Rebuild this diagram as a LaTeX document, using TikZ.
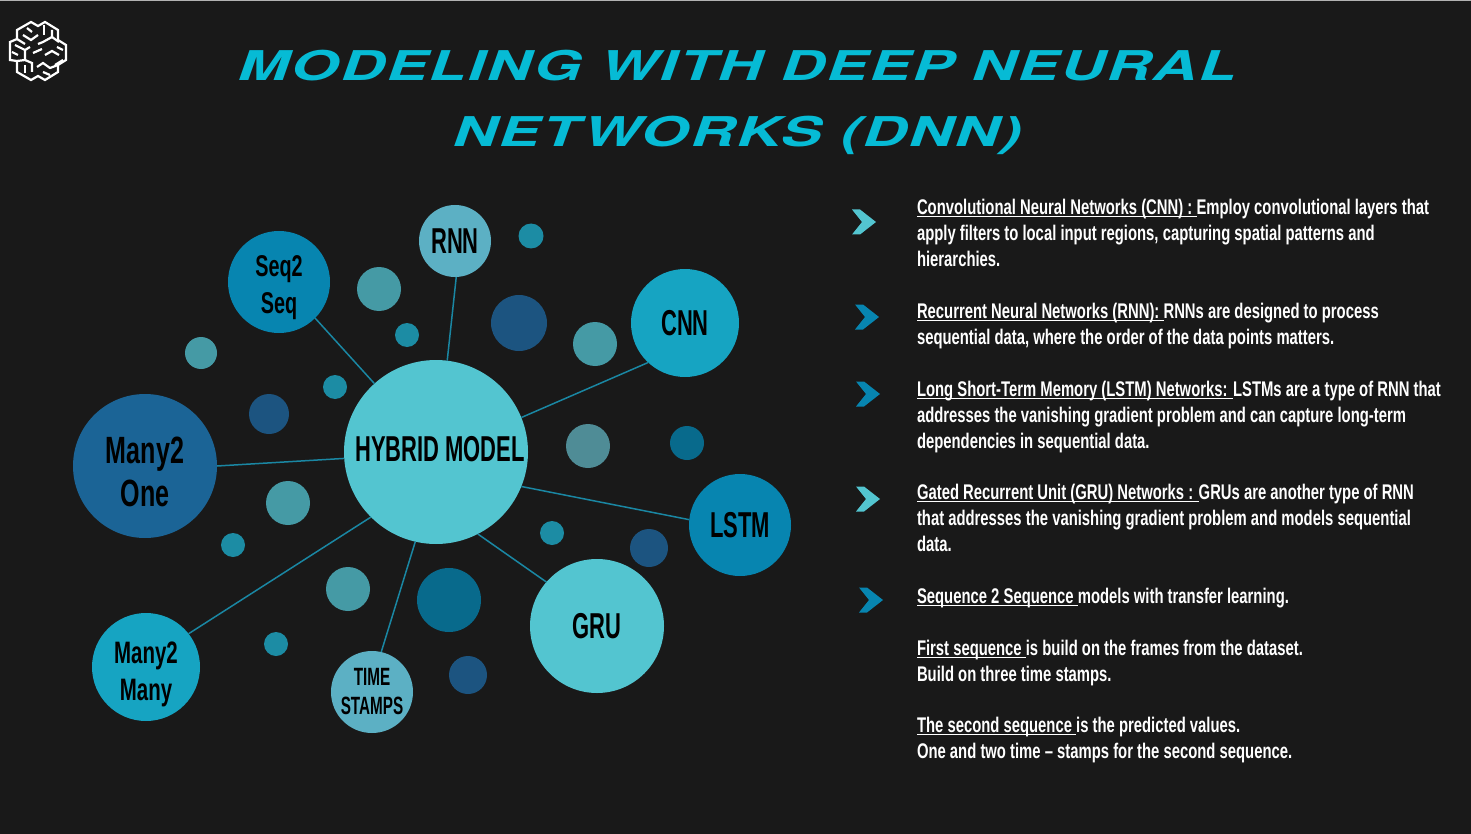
\documentclass[tikz,border=0pt]{standalone}
\usepackage{fontspec}
\setmainfont{Liberation Sans}[FakeStretch=0.70]
\newfontfamily\titlefont{TeX Gyre Heros}[FakeSlant=0.35,FakeStretch=1.5,LetterSpace=4]
\newfontfamily\capsfont{Liberation Sans}[FakeStretch=0.61]
\newfontfamily\mixfont{Liberation Sans}[FakeStretch=0.66]
\usetikzlibrary{positioning}
\definecolor{pagebg}{HTML}{191919}
\definecolor{titlecol}{HTML}{06BBD5}
\definecolor{aqua}{HTML}{53C5D0}
\definecolor{mist}{HTML}{5CB0C4}
\definecolor{ocean}{HTML}{0785B0}
\definecolor{teal}{HTML}{16A4C2}
\definecolor{navy}{HTML}{1B6496}
\definecolor{dotgreen}{HTML}{459AA5}
\definecolor{dotteal}{HTML}{1C8CA4}
\definecolor{dotnavy}{HTML}{1C5480}
\definecolor{dotdeep}{HTML}{086A8C}
\definecolor{dotgrey}{HTML}{4F8C96}
\definecolor{linkcol}{HTML}{1A87A3}
\tikzset{
	every node/.style={
		inner sep=0pt,
		outer sep=0pt
	},
	bubble/.style={
		shape=circle,
		text=black,
		align=center
	},
	dot/.style={
		shape=circle
	},
	link/.style={
		draw=linkcol,
		line width=0.75pt
	},
	para/.style={
		anchor=north west,
		text=white,
		align=left,
		font=\bfseries\fontsize{10.6}{13}\selectfont
	},
	capslabel/.style 2 args={
		font=\capsfont\bfseries\fontsize{#1}{#2}\selectfont
	},
	mixlabel/.style 2 args={
		font=\mixfont\bfseries\fontsize{#1}{#2}\selectfont
	},
	chevron/.style={
		fill=#1,
		draw=none
	},
	brain/.style={
		draw=white,
		line width=1.1pt,
		line cap=butt,
		line join=miter
	}
}
\newcommand{\keyword}[1]{\setbox0=\hbox{#1}\rlap{\rule[-1.4pt]{\wd0}{0.65pt}}\box0}
\newcommand{\lowered}[1]{\rule{0pt}{#1}}
\begin{document}
\begin{tikzpicture}[x=0.5pt,y=-0.5pt]
	\useasboundingbox (0,0) rectangle (1471,834);
	\fill[pagebg] (0,0) rectangle (1471,834);
	\fill[gray!60] (0,0) rectangle (1471,1);

	% title
	\node[text=titlecol,align=center,font=\titlefont\bfseries\fontsize{20.5}{33}\selectfont] (title) at (735,102) {MODELING WITH DEEP NEURAL\\NETWORKS (DNN)};

	% small dots
	\foreach \px/\py/\rad/\col [count=\i] in {531/236/12.5/dotteal,379/289/22/dotgreen,407/335/12/dotteal,519/323/28/dotnavy,595/344/22/dotgreen,201/353/16/dotgreen,335/387/12/dotteal,269/414/20/dotnavy,588/446/22/dotgrey,687/443/17/dotdeep,288/503/22/dotgreen,233/545/12/dotteal,552/533/12/dotteal,649/548/19/dotnavy,348/589/22/dotgreen,449/600/32/dotdeep,276/644/12/dotteal,468/675/19/dotnavy}
		\node[dot,fill=\col,minimum size=\rad pt] (dot\i) at (\px,\py) {};

	% bubbles
	\node[bubble,fill=aqua,minimum size=92pt,capslabel={18}{22}] (hub) at (436,452) {\hspace*{4pt}\rule[-3pt]{0pt}{3pt}HYBRID MODEL};
	\node[bubble,fill=mist,minimum size=36pt,capslabel={18}{22}] (rnn) at (455,241) {RNN};
	\node[bubble,fill=ocean,minimum size=51pt,mixlabel={15}{18.5}] (seq) at (279,282) {\lowered{16pt}Seq2\\Seq};
	\node[bubble,fill=teal,minimum size=54pt,capslabel={18}{22}] (cnn) at (685,323) {CNN};
	\node[bubble,fill=ocean,minimum size=51pt,capslabel={18}{22}] (lstm) at (740,525) {LSTM};
	\node[bubble,fill=aqua,minimum size=67pt,capslabel={18}{22}] (gru) at (597,626) {GRU};
	\node[bubble,fill=mist,minimum size=41pt,capslabel={12.5}{14.5}] (stamps) at (372,692) {TIME\\STAMPS};
	\node[bubble,fill=teal,minimum size=54pt,mixlabel={15.5}{18.5}] (mtm) at (146,667) {\lowered{18pt}Many2\\Many};
	\node[bubble,fill=navy,minimum size=72pt,mixlabel={19}{21.8}] (mto) at (145,466) {\lowered{19pt}Many2\\One};

	% links
	\draw[link] (hub.83) -- (rnn.-88);
	\draw[link] (hub.132) -- (seq.-45);
	\draw[link] (hub.22) -- (cnn.227);
	\draw[link] (hub.-22) -- (lstm.174);
	\draw[link] (hub.-63) -- (gru.139);
	\draw[link] (hub.-103) -- (stamps.77);
	\draw[link] (hub.225) -- (mtm.38);
	\draw[link] (hub.184) -- (mto.0);

	% chevrons
	\foreach \px/\py/\col in {852/222/aqua,855/317/ocean,856/394/ocean,856/499/aqua,859/600/ocean}
		\fill[chevron=\col] (\px,\py-12.5) -- ++(8,0) -- ++(16,12.5) -- ++(-16,12.5) -- ++(-8,0) -- ++(10,-12.5) -- cycle;

	% text
	\node[para] (cnntext) at (917,199) {\keyword{Convolutional Neural Networks (CNN) : }Employ convolutional layers that\\apply filters to local input regions, capturing spatial patterns and\\hierarchies.};
	\node[para] (rnntext) at (917,303) {\keyword{Recurrent Neural Networks (RNN): }RNNs are designed to process\\sequential data, where the order of the data points matters.};
	\node[para] (lstmtext) at (917,381) {\keyword{Long Short-Term Memory (LSTM) Networks: }LSTMs are a type of RNN that\\addresses the vanishing gradient problem and can capture long-term\\dependencies in sequential data.};
	\node[para] (grutext) at (917,484) {\keyword{Gated Recurrent Unit (GRU) Networks : }GRUs are another type of RNN\\that addresses the vanishing gradient problem and models sequential\\data.};
	\node[para] (seqtext) at (917,588) {\keyword{Sequence 2 Sequence }models with transfer learning.};
	\node[para] (firsttext) at (917,640) {\keyword{First sequence }is build on the frames from the dataset.\\Build on three time stamps.};
	\node[para] (secondtext) at (917,717) {\keyword{The second sequence }is the predicted values.\\One and two time -- stamps for the second sequence.};

	% logo
	\draw[brain] (31,22) -- (38,26) -- (45,22) -- (58,30) -- (58,40) -- (66,45) -- (66,60) -- (58,65) -- (58,72) -- (45,80) -- (38,76) -- (31,80) -- (17,72) -- (17,61) -- (10,60) -- (10,42) -- (17,39) -- (17,30) -- cycle;
	\draw[brain] (27,28) -- (32,32);
	\draw[brain] (23,35) -- (31,40) -- (38,35);
	\draw[brain] (44,25) -- (44,35);
	\draw[brain] (52,30) -- (52,37) -- (43,42) -- (38,44);
	\draw[brain] (52,37) -- (59,42);
	\draw[brain] (17,39) -- (25,44);
	\draw[brain] (15,45) -- (25,50) -- (30,47);
	\draw[brain] (25,50) -- (25,60) -- (17,61);
	\draw[brain] (12,52) -- (18,55);
	\draw[brain] (33,53) -- (42,49);
	\draw[brain] (45,55) -- (52,51) -- (59,55);
	\draw[brain] (57,47) -- (63,50);
	\draw[brain] (63,60) -- (55,65);
	\draw[brain] (25,60) -- (32,63) -- (32,72);
	\draw[brain] (25,65) -- (25,73);
	\draw[brain] (37,67) -- (43,63) -- (50,68) -- (58,65);
	\draw[brain] (43,72) -- (50,75);
\end{tikzpicture}
\end{document}
